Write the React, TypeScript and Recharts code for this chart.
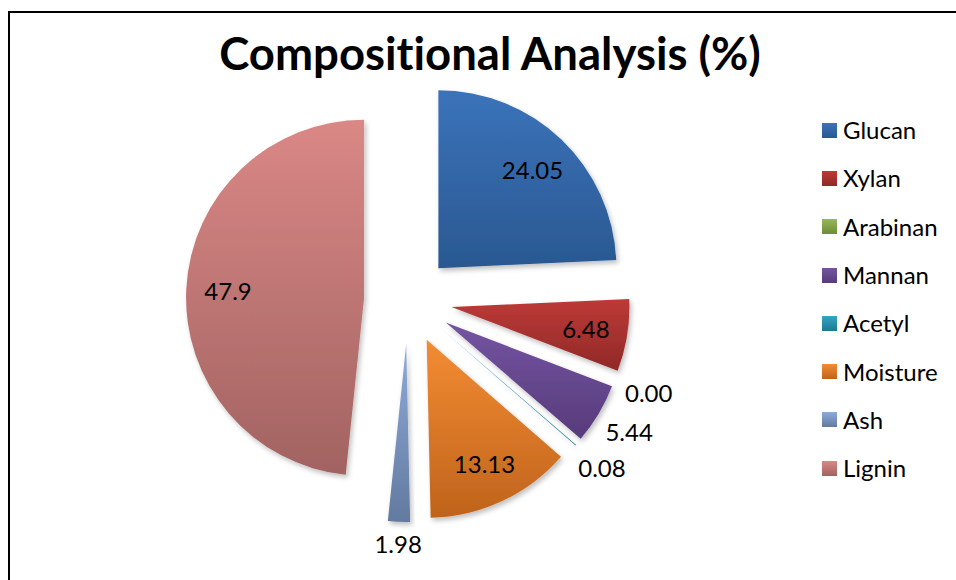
import { PieChart, Pie, Cell, Sector, Legend } from "recharts";

const components = ["Glucan", "Xylan", "Arabinan", "Mannan", "Acetyl", "Moisture", "Ash", "Lignin"];
const percents = [24.05, 6.48, 0.0, 5.44, 0.08, 13.13, 1.98, 47.9];
const percentLabels = ["24.05", "6.48", "0.00", "5.44", "0.08", "13.13", "1.98", "47.9"];

// light (top) and dark (bottom) stops of each slice gradient
const topColors = ["#3b73ba", "#bd3a37", "#98ba54", "#7454a2", "#32a6c4", "#f38c33", "#8dabda", "#da8886"];
const bottomColors = ["#2a5891", "#902927", "#6e8b37", "#573b7a", "#1f7891", "#bf631c", "#637a9f", "#a16361"];

const data = components.map((name, i) => ({ name, value: percents[i], shown: percentLabels[i] }));

const CX = 408;
const CY = 300;
const RADIUS = 178;
const EXPLODE = 44;
const RAD = Math.PI / 180;
const FONT = "Lato, 'Open Sans', sans-serif";

// unit vector of a slice bisector (recharts angles run counter-clockwise from 3 o'clock)
const bisector = (startAngle: number, endAngle: number) => {
  const mid = (startAngle + endAngle) / 2;
  return { ux: Math.cos(-mid * RAD), uy: Math.sin(-mid * RAD) };
};

// draws each slice pulled out along its bisector
const renderSlice = (props: any) => {
  const { cx, cy, outerRadius, startAngle, endAngle, index } = props;
  const { ux, uy } = bisector(startAngle, endAngle);
  return (
    <Sector
      key={`slice-${index}`}
      cx={cx + ux * EXPLODE}
      cy={cy + uy * EXPLODE}
      innerRadius={0}
      outerRadius={outerRadius}
      startAngle={startAngle}
      endAngle={endAngle}
      fill={`url(#slice-grad-${index})`}
      fillOpacity={1}
      stroke="none"
      filter="url(#slice-shadow)"
    />
  );
};

// best-fit style labels: big slices get the number inside, thin ones outside
const renderValue = (props: any) => {
  const { cx, cy, outerRadius, startAngle, endAngle, index, payload } = props;
  const { ux, uy } = bisector(startAngle, endAngle);
  const ox = cx + ux * EXPLODE;
  const oy = cy + uy * EXPLODE;
  const inside = payload.value >= 6;
  const dist = inside
    ? outerRadius * 0.765
    : outerRadius + 12 + Math.abs(ux) * 22 + Math.abs(uy) * 9;
  return (
    <text
      key={`value-${index}`}
      x={ox + ux * dist}
      y={oy + uy * dist}
      textAnchor="middle"
      dominantBaseline="central"
      fontFamily={FONT}
      fontSize={24}
      fill="#000"
    >
      {payload.shown}
    </text>
  );
};

// legend rows in series order, one swatch per component
const renderLegend = () => (
  <div>
    {components.map((name, i) => (
      <div key={`legend-${name}`} style={{ height: 48.3, display: "flex", alignItems: "center" }}>
        <svg width={15} height={15} style={{ marginRight: 6, flex: "none" }}>
          <rect x={0} y={0} width={15} height={15} fill={`url(#slice-grad-${i})`} />
        </svg>
        <span style={{ fontFamily: FONT, fontSize: 24, color: "#000", lineHeight: "24px" }}>{name}</span>
      </div>
    ))}
  </div>
);

export default function App() {
  return (
    <div
      style={{
        position: "absolute",
        left: 0,
        top: 0,
        width: 956,
        height: 580,
        overflow: "hidden",
        background: "#fff",
      }}
    >
      <svg width={0} height={0} style={{ position: "absolute" }}>
        <defs>
          {components.map((c, i) => (
            <linearGradient key={c} id={`slice-grad-${i}`} x1="0" y1="0" x2="0" y2="1">
              <stop offset="0%" stopColor={topColors[i]} />
              <stop offset="100%" stopColor={bottomColors[i]} />
            </linearGradient>
          ))}
          <filter id="slice-shadow" x="-20%" y="-20%" width="140%" height="140%">
            <feDropShadow dx={2} dy={3} stdDeviation={2.5} floodColor="#000" floodOpacity={0.25} />
          </filter>
        </defs>
      </svg>

      {/* chart frame */}
      <div
        style={{
          position: "absolute",
          left: 8,
          top: 11,
          width: 1000,
          height: 700,
          borderLeft: "2px solid #000",
          borderTop: "2px solid #000",
        }}
      />

      <svg width={956} height={100} style={{ position: "absolute", left: 0, top: 0 }}>
        <text
          x={490}
          y={70}
          textAnchor="middle"
          fontFamily={FONT}
          fontWeight={700}
          fontSize={45.5}
          fill="#000"
          style={{ fontVariantLigatures: "none", fontFeatureSettings: '"liga" 0' }}
        >
          Compositional Analysis (%)
        </text>
      </svg>

      <div style={{ position: "absolute", left: 0, top: 0 }}>
        <PieChart width={956} height={580} margin={{ top: 0, right: 0, bottom: 0, left: 0 }}>
          <Pie
            data={data}
            dataKey="value"
            nameKey="name"
            cx={CX}
            cy={CY}
            outerRadius={RADIUS}
            startAngle={90}
            endAngle={-270}
            stroke="none"
            fillOpacity={0}
            label={renderSlice}
            labelLine={false}
            isAnimationActive={false}
          >
            {data.map((d, i) => (
              <Cell key={d.name} fill={`url(#slice-grad-${i})`} />
            ))}
          </Pie>
          <Pie
            data={data}
            dataKey="value"
            nameKey="name"
            cx={CX}
            cy={CY}
            outerRadius={RADIUS}
            startAngle={90}
            endAngle={-270}
            stroke="none"
            fill="none"
            fillOpacity={0}
            legendType="none"
            label={renderValue}
            labelLine={false}
            isAnimationActive={false}
          />
          <Legend
            layout="vertical"
            align="right"
            verticalAlign="top"
            wrapperStyle={{ left: 822, top: 106, right: "auto", width: 130 }}
            content={renderLegend}
          />
        </PieChart>
      </div>
    </div>
  );
}
